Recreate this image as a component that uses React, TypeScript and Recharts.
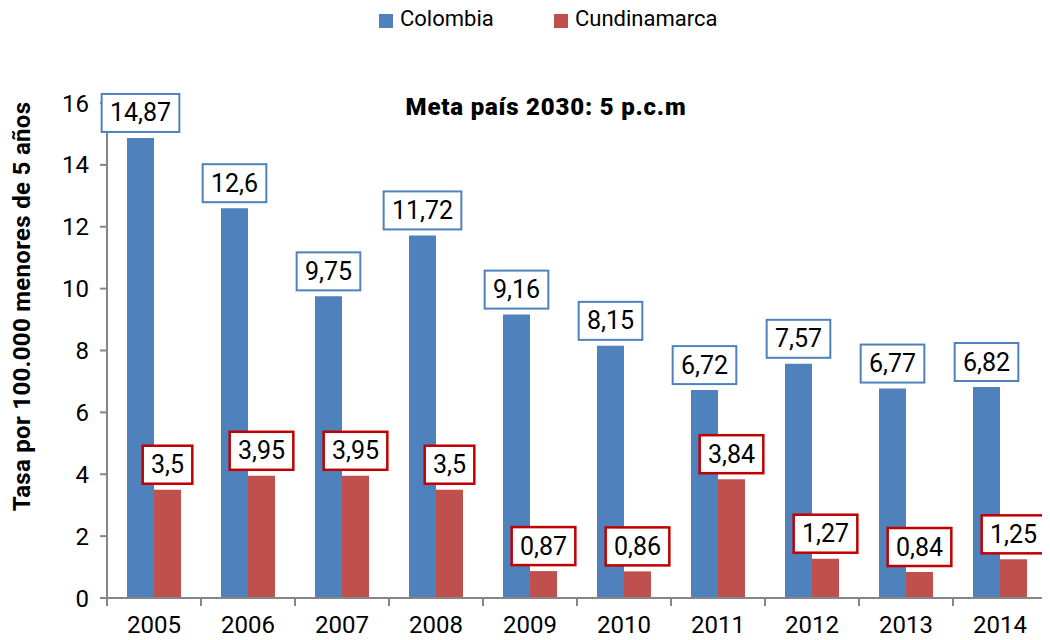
import React from 'react';
import { BarChart, Bar, XAxis, YAxis, LabelList } from 'recharts';

const years = ['2005', '2006', '2007', '2008', '2009', '2010', '2011', '2012', '2013', '2014'];
const colombia = [14.87, 12.6, 9.75, 11.72, 9.16, 8.15, 6.72, 7.57, 6.77, 6.82];
const cundinamarca = [3.5, 3.95, 3.95, 3.5, 0.87, 0.86, 3.84, 1.27, 0.84, 1.25];
const yTicks = [0, 2, 4, 6, 8, 10, 12, 14, 16];

const seriesNames = ['Colombia', 'Cundinamarca'];
const barColors = ['#4F81BD', '#C0504D'];
const boxColors = ['#4F81BD', '#C00000'];
const title = 'Meta país 2030: 5 p.c.m';
const yLabel = 'Tasa por 100.000 menores de 5 años';

const data = years.map((y, i) => ({ year: y, colombia: colombia[i], cundinamarca: cundinamarca[i] }));

const W = 1042;
const H = 632;
const MARGIN = { top: 95, right: 3, bottom: 0, left: 0 };
const Y_AXIS_W = 99;
const PLOT_W = W - MARGIN.left - MARGIN.right - Y_AXIS_W;
const BAND = PLOT_W / years.length;
const FONT = 'Roboto, "Noto Sans", sans-serif';
const AXIS_COLOR = '#868686';

const fmt = (v: number) => String(v).replace('.', ',');

const makeBoxLabel = (stroke: string, sw: number) => (props: any) => {
  const x = Number(props.x);
  const y = Number(props.y);
  const width = Number(props.width);
  const s = fmt(Number(props.value));
  const fs = 25;
  const digits = s.replace(',', '').length;
  const commas = s.length - digits;
  const bw = digits * 0.562 * fs + commas * 0.22 * fs + 16;
  const bh = 38;
  const cx = x + width / 2;
  const bottom = y - 6;
  return (
    <g>
      <rect x={cx - bw / 2} y={bottom - bh} width={bw} height={bh} fill="#fff" stroke={stroke} strokeWidth={sw} />
      <text x={cx} y={bottom - bh / 2} textAnchor="middle" dominantBaseline="central" fontSize={fs} fontFamily={FONT} fill="#000">
        {s}
      </text>
    </g>
  );
};

const XTick = (props: any) => {
  const { x, y, payload, index } = props;
  const left = x - BAND / 2;
  const right = x + BAND / 2;
  return (
    <g>
      <line x1={left} x2={left} y1={y} y2={y + 8} stroke={AXIS_COLOR} strokeWidth={2} />
      {index === years.length - 1 && (
        <line x1={right} x2={right} y1={y} y2={y + 8} stroke={AXIS_COLOR} strokeWidth={2} />
      )}
      <text x={x} y={y + 35} textAnchor="middle" fontSize={24} fontFamily={FONT} fill="#000">
        {payload.value}
      </text>
    </g>
  );
};

const YLabel = (props: any) => {
  const vb = props.viewBox || { x: 0, y: MARGIN.top, width: Y_AXIS_W, height: 495 };
  const cx = vb.x + 14;
  const cy = vb.y + vb.height / 2 - 44;
  return (
    <text
      x={cx}
      y={cy}
      transform={`rotate(-90, ${cx}, ${cy})`}
      textAnchor="middle"
      dominantBaseline="central"
      fontSize={24}
      fontWeight="bold"
      letterSpacing={0.3}
      fontFamily={FONT}
      fill="#000"
    >
      {yLabel}
    </text>
  );
};

export default function App() {
  return (
    <div style={{ position: 'relative', width: W, height: H, fontFamily: FONT, background: '#fff' }}>
      {seriesNames.map((name, i) => (
        <div key={name} style={{ position: 'absolute', top: 0, left: i === 0 ? 371 : 546, height: 24 }}>
          <div style={{ position: 'absolute', left: 0, top: 6, width: 14, height: 14, background: barColors[i] }} />
          <div style={{ position: 'absolute', left: 21, top: 0, fontSize: 22, lineHeight: '22px', whiteSpace: 'nowrap', color: '#000' }}>
            {name}
          </div>
        </div>
      ))}
      <div
        style={{
          position: 'absolute',
          top: 87,
          left: 538 - 200,
          width: 400,
          textAlign: 'center',
          fontSize: 24,
          lineHeight: '24px',
          fontWeight: 900,
          letterSpacing: 0.8,
          color: '#000',
          zIndex: 2,
          pointerEvents: 'none',
        }}
      >
        {title}
      </div>
      <BarChart width={W} height={H} data={data} margin={MARGIN} barGap={0} barSize={27}>
        <XAxis
          dataKey="year"
          height={42}
          axisLine={{ stroke: AXIS_COLOR, strokeWidth: 2 }}
          tickLine={false}
          tickSize={0}
          tickMargin={0}
          tick={<XTick />}
          interval={0}
        />
        <YAxis
          width={Y_AXIS_W}
          domain={[0, 16]}
          ticks={yTicks}
          interval={0}
          axisLine={{ stroke: AXIS_COLOR, strokeWidth: 2 }}
          tickLine={{ stroke: AXIS_COLOR, strokeWidth: 2 }}
          tickSize={7}
          tickMargin={11}
          tick={{ fontSize: 24, fill: '#000', fontFamily: FONT }}
          label={{ content: <YLabel /> }}
        />
        <Bar dataKey="colombia" name={seriesNames[0]} fill={barColors[0]} isAnimationActive={false}>
          <LabelList dataKey="colombia" content={makeBoxLabel(boxColors[0], 2)} />
        </Bar>
        <Bar dataKey="cundinamarca" name={seriesNames[1]} fill={barColors[1]} isAnimationActive={false}>
          <LabelList dataKey="cundinamarca" content={makeBoxLabel(boxColors[1], 2.5)} />
        </Bar>
      </BarChart>
    </div>
  );
}
